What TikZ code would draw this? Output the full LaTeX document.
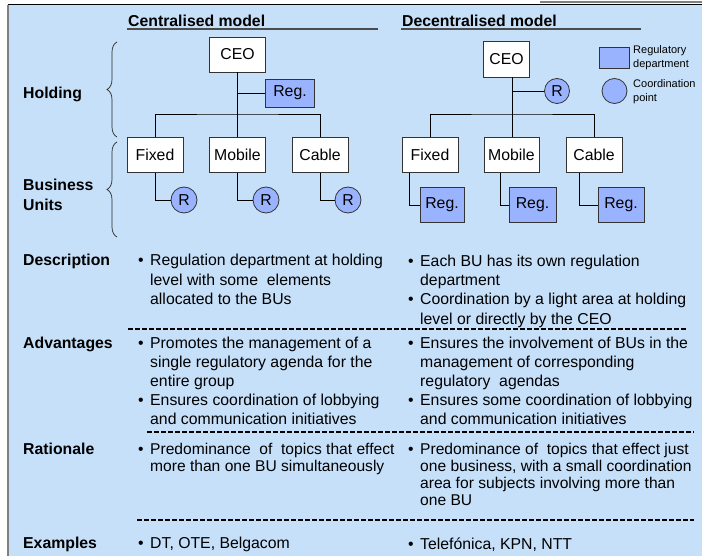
\documentclass[tikz,border=0pt]{standalone}
\usepackage{fontspec}
\setmainfont{Liberation Sans}
\usetikzlibrary{decorations.pathreplacing}
\definecolor{bgblue}{RGB}{198,224,250}
\definecolor{regblue}{RGB}{153,179,255}
\tikzset{
  unit/.style={draw=black!80, fill=white, line width=0.8pt, inner sep=0pt,
    minimum height=35pt, font=\fontsize{15.8}{19}\selectfont},
  regbox/.style={unit, fill=regblue},
  coord/.style={circle, draw=black!80, fill=regblue, line width=0.8pt,
    inner sep=0pt, minimum size=26pt, font=\fontsize{15.8}{19}\selectfont},
  link/.style={line width=0.8pt},
  body/.style={anchor=north west, inner sep=0pt, align=left,
    font=\fontsize{15.8}{19.2}\selectfont},
  rowlabel/.style={body, font=\fontsize{15.8}{19.2}\selectfont\bfseries},
  keytext/.style={anchor=west, inner sep=0pt, align=left,
    font=\fontsize{11}{14}\selectfont},
  sep/.style={line width=1.6pt, dash pattern=on 5pt off 2pt},
  grp/.style={decorate, decoration={brace, amplitude=10pt},
    line width=0.7pt, black!85},
}
\newcommand{\bul}{\llap{•\hspace{6.5pt}}}
\begin{document}
\begin{tikzpicture}[x=1pt,y=-1pt]
  \useasboundingbox (0,0) rectangle (702,556);
  \fill[bgblue] (8,5) rectangle (702,556);
  \draw[gray, line width=1.7pt] (8,5) -- (8,556);
  \draw[line width=1pt] (8,5) -- (702,5);
  \draw[gray, line width=1.5pt] (540,2) -- (702,2);

  % column heads
  \node[rowlabel] (headC) at (128,14.8) {Centralised model};
  \node[rowlabel] (headD) at (402,14.8) {Decentralised model};
  \draw[black!70, line width=1.2pt] (127,29) -- (378,29);
  \draw[black!70, line width=1.2pt] (401,29) -- (641,29);

  % levels
  \node[rowlabel] (holding) at (23,87.3) {Holding};
  \node[rowlabel] (units) at (23,179.3) {Business\\Units};
  \draw[grp] (117,137) -- (117,42);
  \draw[grp] (117,237) -- (117,142);

  % centralised tree
  \node[unit, minimum width=56pt] (ceoC) at (237.5,54.5) {CEO};
  \node[regbox, minimum width=49pt, minimum height=28pt] (regC) at (290,93) {Reg.};
  \node[unit, minimum width=56pt] (fixedC) at (155,155) {Fixed};
  \node[unit, minimum width=56pt] (mobileC) at (237.5,155) {Mobile};
  \node[unit, minimum width=56pt] (cableC) at (320,155) {Cable};
  \node[coord] (rFixedC) at (184,200) {R};
  \node[coord] (rMobileC) at (266,200) {R};
  \node[coord] (rCableC) at (348,200) {R};
  \coordinate (barC) at (237.5,114);
  \draw[link] (ceoC.south) -- (mobileC.north);
  \draw[link] (ceoC.south |- regC.west) -- (regC.west);
  \draw[link] (fixedC.north) |- (barC) -| (cableC.north);
  \draw[link] (fixedC.south) |- (rFixedC.west);
  \draw[link] (mobileC.south) |- (rMobileC.west);
  \draw[link] (cableC.south) |- (rCableC.west);

  % decentralised tree
  \node[unit, minimum width=46pt, minimum height=36pt] (ceoD) at (506.5,59) {CEO};
  \coordinate (stemD) at ([xshift=5.5pt]ceoD.south);
  \node[coord, minimum size=25pt] (rD) at (557,91) {R};
  \node[unit, minimum width=56pt] (fixedD) at (430,155) {Fixed};
  \node[unit, minimum width=55pt] (mobileD) at (511.5,155) {Mobile};
  \node[unit, minimum width=56pt] (cableD) at (594,155) {Cable};
  \node[regbox, minimum width=44pt] (regFixedD) at (442,205) {Reg.};
  \node[regbox, minimum width=47pt] (regMobileD) at (532.5,205) {Reg.};
  \node[regbox, minimum width=46pt] (regCableD) at (621,205) {Reg.};
  \coordinate (barD) at (511.5,114);
  \draw[link] (stemD) -- (stemD |- mobileD.north);
  \draw[link] (stemD |- rD.west) -- (rD.west);
  \draw[link] (fixedD.north) |- (barD) -| (cableD.north);
  \draw[link] ([xshift=-21pt]fixedD.south) |- (regFixedD.west);
  \draw[link] ([xshift=-11.5pt]mobileD.south) |- (regMobileD.west);
  \draw[link] ([xshift=-15pt]cableD.south) |- (regCableD.west);

  % key
  \node[regbox, minimum width=30pt, minimum height=21pt] (keyReg) at (614,57.5) {};
  \node[keytext] (keyRegText) at (633,58) {Regulatory\\department};
  \node[coord, minimum size=25pt] (keyCoord) at (614.5,91) {};
  \node[keytext] (keyCoordText) at (633,92) {Coordination\\point};

  % table rows
  \node[rowlabel] (descr) at (23,254.3) {Description};
  \node[body, font=\fontsize{15.8}{19.5}\selectfont] (descrC) at (150,254.3)
    {\bul Regulation department at holding\\level with some\ \ elements\\allocated to the BUs};
  \node[body] (descrD1) at (420,255) {\bul Each BU has its own regulation\\department};
  \node[body] (descrD2) at (420,293.3) {\bul Coordination by a light area at holding\\level or directly by the CEO};
  \draw[sep] (128,329) -- (686,329);

  \node[rowlabel] (advan) at (23,337.3) {Advantages};
  \node[body, font=\fontsize{15.8}{19}\selectfont] (advanC1) at (150,337.3)
    {\bul Promotes the management of a\\single regulatory agenda for the\\entire group};
  \node[body, font=\fontsize{15.8}{18.5}\selectfont] (advanC2) at (150,394.3)
    {\bul Ensures coordination of lobbying\\and communication initiatives};
  \node[body, font=\fontsize{15.8}{19}\selectfont] (advanD1) at (420,337.3)
    {\bul Ensures the involvement of BUs in the\\management of corresponding\\regulatory\ \ agendas};
  \node[body, font=\fontsize{15.8}{18.5}\selectfont] (advanD2) at (420,394.3)
    {\bul Ensures some coordination of lobbying\\and communication initiatives};
  \draw[sep] (147,432) -- (694,432);

  \node[rowlabel] (ratio) at (23,443.3) {Rationale};
  \node[body, font=\fontsize{15.6}{17}\selectfont] (ratioC) at (150,443.3)
    {\bul Predominance\ \ of\ \ topics that effect\\more than one BU simultaneously};
  \node[body, font=\fontsize{15.6}{17}\selectfont] (ratioD) at (420,443.3)
    {\bul Predominance of\ \ topics that effect just\\one business, with a small coordination\\area for subjects involving more than\\one BU};
  \draw[sep] (137,520) -- (694,520);

  \node[rowlabel] (examp) at (23,537.3) {Examples};
  \node[body] (exampC) at (150,537.3) {\bul DT, OTE, Belgacom};
  \node[body] (exampD) at (420,537.3) {\bul Telefónica, KPN, NTT};
\end{tikzpicture}
\end{document}
